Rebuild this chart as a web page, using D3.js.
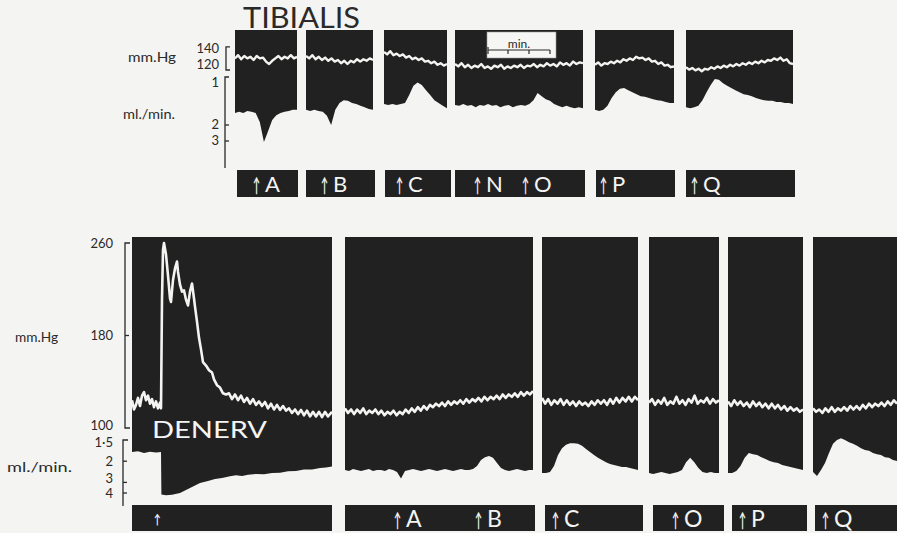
<!DOCTYPE html>
<html><head><meta charset="utf-8">
<script src="https://cdn.jsdelivr.net/npm/d3@7"></script>
<style>
body{margin:0;background:#f4f4f2;}
svg{display:block;}
text{font-family:Lato,"Liberation Sans",sans-serif;}
</style>
</head><body>
<svg id="c" width="897" height="533"></svg>
<script>
// ---------------- DATA ----------------
// Time in minutes, pressure in mm Hg, flow in ml./min.
// Upper record (TIBIALIS): recording segments and event-bar segments
const topSegments = [[0,3.1],[3.55,6.9],[7.45,10.6],[11,17.4],[18,21.95],[22.55,27.9]];
const topStrips   = [[0.1,3.15],[3.55,7.0],[7.5,10.8],[11,17.5],[18.05,22],[22.55,28]];
const topEventLabels = ["A","B","C","N","O","P","Q"];
const topEventTimes  = [0.9,4.3,8.05,11.95,14.35,18.25,22.8];
const topPressureTicks = [140,120];
const topFlowTicks = [1,2,3];
const minuteBar = [12.6,13.65,14.7,15.75];

const topPressureA  = [127,131,126,130,127,129,125,130,127,128,123,120,124,127,130,126,129,127,131,127,129];
const topPressureB  = [130,127,131,126,129,125,128,124,127,123,125,121,124,120,124,122,126,123,126,124,127,125];
const topPressureC  = [135,132,136,131,133,130,132,128,130,126,128,125,127,123,124,121,123,119,121,118,120];
const topPressureNO = [120,117,121,116,119,115,118,116,120,115,117,114,118,116,119,114,117,115,118,116,119,115,118,117,120,116,119,117,121,118,120,117,122,119,121,118,123,120,122,121];
const topPressureP  = [119,122,118,121,120,123,121,124,122,126,124,127,125,129,127,128,125,127,123,124,120,122,118,119,116,117];
const topPressureQ  = [116,113,115,112,114,111,114,113,116,114,117,115,118,116,119,117,120,118,121,119,122,120,123,121,124,122,125,124,127,125,128,124,126,121,120];

const topFlowA  = [1.6,1.57,1.6,1.55,1.57,1.6,1.88,3.1,2.3,1.81,1.66,1.6,1.57,1.55,1.52,1.52];
const topFlowB  = [1.52,1.55,1.52,1.55,1.57,1.68,2.0,1.52,1.37,1.32,1.33,1.37,1.39,1.43,1.46,1.5,1.52];
const topFlowC  = [1.39,1.41,1.39,1.41,1.39,1.37,1.23,1.1,1.06,1.09,1.16,1.23,1.32,1.37,1.43,1.48];
const topFlowNO = [1.41,1.43,1.39,1.43,1.41,1.46,1.41,1.43,1.39,1.43,1.41,1.46,1.43,1.41,1.46,1.43,1.41,1.43,1.39,1.32,1.2,1.25,1.3,1.33,1.39,1.43,1.46,1.43,1.46,1.48,1.46,1.48];
const topFlowP  = [1.52,1.55,1.52,1.43,1.28,1.19,1.14,1.13,1.16,1.19,1.22,1.25,1.26,1.28,1.3,1.32,1.33,1.35,1.37,1.37];
const topFlowQ  = [1.46,1.48,1.46,1.43,1.32,1.19,1.09,1.02,1.03,1.07,1.1,1.13,1.16,1.19,1.22,1.23,1.25,1.28,1.3,1.32,1.33,1.33,1.35,1.35,1.37,1.37,1.39];

// Lower record (after denervation)
const botSegments = [[0,10],[10.65,20.05],[20.5,25.3],[25.85,29.35],[29.8,33.55],[34.05,38.25]];
const botStrips   = [[0,10],[10.65,20.15],[20.65,25.55],[26.05,29.6],[30,33.75],[34.15,38.3]];
const botEventLabels = ["","A","B","C","O","P","Q"];
const botEventTimes  = [1.1,13.1,17.15,21.0,27.0,30.35,34.5];
const botPressureTicks = [260,180,100];
const botFlowTicks = [1.5,2,3,4];
const botFlowTickLabels = ["1·5","2","3","4"];

const botPressureDenerv = [[0,124],[0.1,116],[0.2,120],[0.3,126],[0.4,119],[0.5,128],[0.6,131],[0.7,124],[0.8,128],[0.9,121],[1.0,125],[1.1,118],[1.2,123],[1.3,117],[1.4,122],[1.45,117],
 [1.5,211],[1.55,254],[1.6,260],[1.7,250],[1.8,232],[1.9,212],[1.95,209],[2.05,228],[2.15,238],[2.25,244],[2.3,235],[2.4,224],[2.5,218],[2.6,219],[2.7,211],[2.8,206],[2.9,218],[3.0,225],[3.1,212],[3.15,205],[3.25,192],[3.35,178],[3.45,168],[3.55,157],[3.7,154],[3.85,150],[4.0,148],[4.1,142],[4.25,137],[4.4,135],[4.55,130],[4.7,129],
 [4.85,130],[5.0,125],[5.15,129],[5.3,124],[5.45,128],[5.6,122.5],[5.75,126],[5.9,121],[6.05,125],[6.2,120],[6.35,123],[6.5,119],[6.65,122.5],[6.8,117],[6.95,121],[7.1,116],[7.25,120],[7.4,115.6],[7.55,119],[7.7,115],[7.85,117],[8.0,113],[8.15,116],[8.3,112],[8.45,115.6],[8.6,111],[8.75,115],[8.9,110],[9.05,114],[9.2,110],[9.35,114],[9.5,109.5],[9.65,114],[9.8,110],[10,114]];
const botFlowDenerv = [[0,1.75],[0.3,1.73],[0.6,1.77],[0.9,1.74],[1.2,1.76],[1.45,1.75],[1.47,4.2],[1.7,4.3],[2.0,4.25],[2.4,4.0],[2.9,3.46],[3.4,3.04],[3.8,2.9],[4.15,2.78],[4.5,2.72],[4.9,2.62],[5.2,2.57],[5.5,2.6],[5.8,2.54],[6.2,2.5],[6.6,2.52],[7.0,2.45],[7.4,2.44],[7.8,2.38],[8.2,2.36],[8.6,2.3],[9.0,2.3],[9.4,2.24],[9.7,2.22],[10,2.18]];

const botPressureAB = [117,113,116,112,116,113,117,112,115,113,116,112,115,111,114,112,115,111,114,112,116,113,117,114,118,115,119,116,120,118,121,119,122,119,123,120,123,121,124,121,125,122,125,123,126,123,127,124,127,125,128,125,129,126,129,127,130,127,131,128,131,129,132];
const botFlowAB = [2.32,2.36,2.28,2.32,2.36,2.32,2.28,2.36,2.32,2.32,2.36,2.28,2.32,2.41,2.75,2.36,2.32,2.28,2.32,2.36,2.32,2.28,2.32,2.36,2.32,2.28,2.32,2.36,2.32,2.28,2.32,2.32,2.28,2.16,1.96,1.88,1.85,1.9,2.06,2.24,2.32,2.36,2.32,2.28,2.32,2.36,2.32,2.32];
const botPressureC = [126,121,125,120,124,121,125,120,124,120,123,119,123,120,122,119,123,120,124,121,124,120,125,121,126,122,126,123,127,123,127,124];
const botFlowC = [2.46,2.46,2.41,2.16,1.82,1.66,1.59,1.56,1.56,1.57,1.61,1.68,1.75,1.82,1.9,1.96,2.03,2.09,2.13,2.16,2.2,2.2,2.24,2.28,2.32];
const botPressureO = [122,125,120,124,121,126,120,123,121,127,121,124,120,125,122,128,121,124,122,126,121,125,122,124];
const botFlowO = [2.46,2.5,2.46,2.41,2.46,2.5,2.46,2.41,2.32,2.03,1.9,2.03,2.24,2.41,2.46,2.41,2.46,2.46];
const botPressureP = [123,119,124,120,123,119,122,118,123,119,122,118,121,117,121,117,120,116,119,115,118,115,117,114,116];
const botFlowP = [2.46,2.46,2.36,2.16,1.9,1.77,1.8,1.82,1.88,1.93,1.99,2.03,2.06,2.13,2.16,2.2,2.24,2.28,2.32];
const botPressureQ = [117,114,116,113,117,114,118,114,117,115,118,115,119,116,119,116,120,117,121,118,121,119,122,119,123,120,124,121];
const botFlowQ = [2.41,2.61,2.32,2.06,1.77,1.57,1.5,1.47,1.5,1.54,1.57,1.61,1.66,1.7,1.72,1.77,1.8,1.82,1.88,1.9,1.96,1.99];

// ---------------- DRAWING ----------------
const INK = "#212121", TRACE = "#f3f3f1", LABEL = "#2a2a2a", PAPER = "#f4f4f2";
const svg = d3.select("#c");
svg.append("rect").attr("width",897).attr("height",533).attr("fill",PAPER);

function samples(seg, vals){ const n = vals.length; return vals.map((v,i)=>({t: seg[0] + (seg[1]-seg[0])*i/(n-1), v})); }
function pairs(arr){ return arr.map(([t,v])=>({t,v})); }

// scales
const xTop = d3.scaleLinear().domain([0,28]).range([235,795]);
const pTop = d3.scaleLinear().domain([120,140]).range([64,48]);
const fTop = d3.scalePow().exponent(-1).domain([1,2]).range([77,125]);
const xBot = d3.scaleLinear().domain([0,38.25]).range([132,897]);
const pBot = d3.scaleLinear().domain([100,260]).range([428,243]);
const fBot = d3.scalePow().exponent(-1).domain([1.5,4]).range([440,493]);

const defs = svg.append("defs");
let clipN = 0;
function drawPanels(x, p, f, top, segs, pressures, flows, pw){
  segs.forEach((seg,i)=>{
    const id = "clip"+(clipN++);
    defs.append("clipPath").attr("id",id).append("rect")
      .attr("x", x(seg[0])).attr("y", top-2).attr("width", x(seg[1])-x(seg[0])).attr("height", 300);
    const g = svg.append("g").attr("clip-path",`url(#${id})`);
    const area = d3.area().x(d=>x(d.t)).y0(top).y1(d=>f(d.v));
    g.append("path").datum(flows[i]).attr("d", area).attr("fill", INK);
    const line = d3.line().x(d=>x(d.t)).y(d=>p(d.v));
    g.append("path").datum(pressures[i]).attr("d", line)
      .attr("fill","none").attr("stroke",TRACE).attr("stroke-width",pw).attr("stroke-linejoin","round");
  });
}

// ---- upper record ----
const topTop = 30;
drawPanels(xTop, pTop, fTop, topTop, topSegments,
  [topPressureA,topPressureB,topPressureC,topPressureNO,topPressureP,topPressureQ].map((a,i)=>samples(topSegments[i],a)),
  [topFlowA,topFlowB,topFlowC,topFlowNO,topFlowP,topFlowQ].map((a,i)=>samples(topSegments[i],a)), 2.4);

// minute scale box
const mb = svg.append("g");
mb.append("rect").attr("x", xTop(minuteBar[0])).attr("y", 32)
  .attr("width", xTop(16.05)-xTop(minuteBar[0])).attr("height", 26)
  .attr("fill","#f6f6f4").attr("stroke","#9a9a9a").attr("stroke-width",0.6);
mb.append("line").attr("x1", xTop(minuteBar[0])+1).attr("x2", xTop(minuteBar[3]))
  .attr("y1",50).attr("y2",50).attr("stroke",LABEL).attr("stroke-width",1.2);
minuteBar.forEach((t,i)=>{
  mb.append("line").attr("x1",xTop(t)+(i===0?1:0)).attr("x2",xTop(t)+(i===0?1:0))
    .attr("y1", i===0?47:50).attr("y2", 54).attr("stroke",LABEL).attr("stroke-width",1.2);
});
mb.append("text").attr("x", xTop(14.2)).attr("y", 48).attr("text-anchor","middle")
  .attr("font-size",12).attr("fill",LABEL).text("min.");

// event strips
function drawStrips(x, strips, y0, y1, times, labels, fs, base){
  strips.forEach(s=>{
    svg.append("rect").attr("x",x(s[0])).attr("y",y0).attr("width",x(s[1])-x(s[0])).attr("height",y1-y0).attr("fill",INK);
  });
  times.forEach((t,i)=>{
    const big = !!labels[i];
    svg.append("text")
      .attr("transform",`translate(${x(t)},${big?base:base-3}) scale(1,${big?2.05:1.45})`)
      .attr("fill",PAPER).attr("opacity",0.99).attr("font-family","DejaVu Sans").attr("font-weight","bold")
      .attr("font-size", big ? 9.5 : 9).text("↑");
    if(big) svg.append("text").attr("x",x(t)+12).attr("y",base).attr("fill",PAPER)
      .attr("font-size",fs).text(labels[i]);
  });
}
drawStrips(xTop, topStrips, 170, 197, topEventTimes, topEventLabels, 22, 192);

// upper axes
const ta = svg.append("g").attr("stroke",LABEL).attr("stroke-width",1.3).attr("fill","none");
ta.append("path").attr("d",`M230,${pTop(141.5)}H226V${pTop(112.5)}H230`);
ta.append("path").attr("d",`M229,${fTop(1)}H225V168`);
topFlowTicks.slice(1).forEach(v=>ta.append("line").attr("x1",225).attr("x2",229).attr("y1",fTop(v)).attr("y2",fTop(v)));
topPressureTicks.forEach(v=>svg.append("text").attr("x",219).attr("y",pTop(v)).attr("dy","0.36em")
  .attr("text-anchor","end").attr("font-size",13).attr("fill",LABEL).text(v));
topFlowTicks.forEach(v=>svg.append("text").attr("x",219).attr("y",fTop(v)+(v===1?5:-1)).attr("dy","0.36em")
  .attr("text-anchor","end").attr("font-size",13).attr("fill",LABEL).text(v));
svg.append("text").attr("x",128).attr("y",62).attr("font-size",13).attr("fill",LABEL)
  .attr("textLength",48).attr("lengthAdjust","spacingAndGlyphs").text("mm.Hg");
svg.append("text").attr("x",123).attr("y",119).attr("font-size",13).attr("fill",LABEL)
  .attr("textLength",52).attr("lengthAdjust","spacingAndGlyphs").text("ml./min.");
svg.append("text").attr("x",243).attr("y",28).attr("font-size",28).attr("fill",LABEL)
  .attr("textLength",117).attr("lengthAdjust","spacingAndGlyphs").text("TIBIALIS");

// ---- lower record ----
const botTop = 237;
drawPanels(xBot, pBot, fBot, botTop, botSegments,
  [pairs(botPressureDenerv)].concat([botPressureAB,botPressureC,botPressureO,botPressureP,botPressureQ].map((a,i)=>samples(botSegments[i+1],a))),
  [pairs(botFlowDenerv)].concat([botFlowAB,botFlowC,botFlowO,botFlowP,botFlowQ].map((a,i)=>samples(botSegments[i+1],a))), 2.6);

svg.append("text").attr("x",xBot(1.0)).attr("y",438).attr("font-size",24).attr("fill",PAPER)
  .attr("textLength",115).attr("lengthAdjust","spacingAndGlyphs").text("DENERV");

drawStrips(xBot, botStrips, 505, 531, botEventTimes, botEventLabels, 23, 527);

const ba = svg.append("g").attr("stroke",LABEL).attr("stroke-width",1.3).attr("fill","none");
ba.append("path").attr("d",`M130,${pBot(260)}H125V${pBot(100)}H130`);
ba.append("line").attr("x1",125).attr("x2",129).attr("y1",pBot(180)).attr("y2",pBot(180));
ba.append("path").attr("d",`M128,${fBot(1.5)}H123V506`);
botFlowTicks.slice(1).forEach(v=>ba.append("line").attr("x1",123).attr("x2",127).attr("y1",fBot(v)).attr("y2",fBot(v)));
botPressureTicks.forEach(v=>svg.append("text").attr("x",113).attr("y",pBot(v)+(v===100?-3:0)).attr("dy","0.36em")
  .attr("text-anchor","end").attr("font-size",13).attr("fill",LABEL).text(v));
botFlowTicks.forEach((v,i)=>svg.append("text").attr("x",113).attr("y",fBot(v)+(v===1.5?2:v===3?-4:0)).attr("dy","0.36em")
  .attr("text-anchor","end").attr("font-size",13).attr("fill",LABEL).text(botFlowTickLabels[i]));
svg.append("text").attr("x",15).attr("y",342).attr("font-size",13).attr("fill",LABEL)
  .attr("textLength",43).attr("lengthAdjust","spacingAndGlyphs").text("mm.Hg");
svg.append("text").attr("x",7).attr("y",472).attr("font-size",13).attr("fill",LABEL)
  .attr("textLength",65).attr("lengthAdjust","spacingAndGlyphs").text("ml./min.");
</script>
</body></html>
